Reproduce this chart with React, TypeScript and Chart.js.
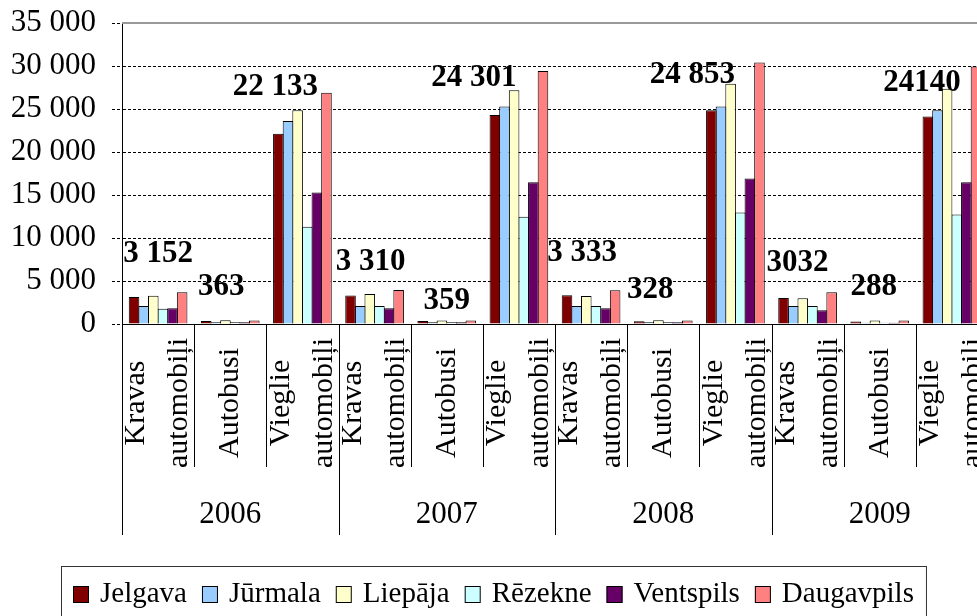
import React, { useEffect, useRef } from "react";
import { Chart, registerables } from "chart.js";

Chart.register(...registerables);

// ---------- data ----------
const years = ["2006", "2007", "2008", "2009"];
const vehicleTypes = ["Kravas automobiļi", "Autobusi", "Vieglie automobiļi"];
const categoryLabels = years.flatMap((y) => vehicleTypes.map((t) => `${y} ${t}`));

const seriesNames = ["Jelgava", "Jūrmala", "Liepāja", "Rēzekne", "Ventspils", "Daugavpils"];

const jelgava = [3152, 363, 22133, 3310, 359, 24301, 3333, 328, 24853, 3032, 288, 24140];
const jurmala = [2090, 200, 23600, 2090, 200, 25300, 2090, 200, 25300, 2090, 150, 24850];
const liepaja = [3280, 450, 24850, 3480, 400, 27170, 3250, 450, 27940, 2980, 400, 27360];
const rezekne = [1780, 200, 11300, 2090, 200, 12460, 2090, 200, 12970, 2090, 150, 12730];
const ventspils = [1820, 200, 15290, 1820, 200, 16490, 1820, 200, 16910, 1590, 150, 16490];
const daugavpils = [3680, 400, 26900, 3950, 400, 29410, 3910, 400, 30420, 3680, 400, 29950];

const dataLabelTexts = ["3 152", "363", "22 133", "3 310", "359", "24 301", "3 333", "328", "24 853", "3032", "288", "24140"];

const yMin = 0;
const yMax = 35000;
const yStep = 5000;

// ---------- styles ----------
const seriesColors = ["#800000", "#99CCFF", "#FFFFCC", "#CCFFFF", "#660066", "#FF8080"];
const FONT = "'Liberation Serif', 'Times New Roman', serif";
const labelShiftX = [0, -9, -27, -4, 0, -45, -9, -13, -43, -10, -6, -30];
const labelRise = [43, 34, 47, 34, 20, 37, 42, 31, 35, 35, 35, 33];

const fmt = (v: number) => {
  if (v === 0) return "0";
  const th = Math.floor(v / 1000);
  const rest = String(v % 1000).padStart(3, "0");
  return `${th} ${rest}`;
};

const decorPlugin = {
  id: "decor",
  beforeDatasetsDraw(chart: any) {
    const { ctx, chartArea } = chart;
    ctx.save();
    ctx.strokeStyle = "#999";
    ctx.lineWidth = 2;
    ctx.beginPath();
    ctx.moveTo(chartArea.left, chartArea.top);
    ctx.lineTo(chartArea.right + 2, chartArea.top);
    ctx.stroke();
    ctx.restore();
  },
  afterDatasetsDraw(chart: any) {
    const { ctx } = chart;
    const xs = chart.scales.x;
    const ys = chart.scales.y;
    ctx.save();
    ctx.fillStyle = "#000";
    ctx.font = `bold 31px ${FONT}`;
    ctx.textAlign = "center";
    ctx.textBaseline = "middle";
    dataLabelTexts.forEach((t, i) => {
      const x = xs.getPixelForValue(i) + labelShiftX[i];
      const y = ys.getPixelForValue(jelgava[i]) - labelRise[i];
      ctx.fillText(t, x, y);
    });
    ctx.restore();
  },
  afterDraw(chart: any) {
    const { ctx, chartArea } = chart;
    const xs = chart.scales.x;
    const n = categoryLabels.length;
    const w = (xs.right - xs.left) / n;
    const y0 = chartArea.bottom;
    ctx.save();
    ctx.strokeStyle = "#000";
    ctx.lineWidth = 1;
    for (let i = 0; i <= n; i++) {
      const x = Math.round(xs.left + i * w) + 0.5;
      const len = i % 3 === 0 ? 211 : 143;
      ctx.beginPath();
      ctx.moveTo(x, y0);
      ctx.lineTo(x, y0 + len);
      ctx.stroke();
    }
    ctx.fillStyle = "#000";
    ctx.font = `30px ${FONT}`;
    ctx.textAlign = "center";
    ctx.textBaseline = "middle";
    for (let i = 0; i < n; i++) {
      const cx = xs.getPixelForValue(i);
      const lines = vehicleTypes[i % 3].split(" ");
      ctx.save();
      ctx.translate(cx, y0 + 79);
      ctx.rotate(-Math.PI / 2);
      lines.forEach((ln, j) => {
        ctx.fillText(ln, 0, (j - (lines.length - 1) / 2) * 43);
      });
      ctx.restore();
    }
    ctx.font = `31px ${FONT}`;
    years.forEach((yr, k) => {
      const cx = (xs.getPixelForValue(3 * k) + xs.getPixelForValue(3 * k + 2)) / 2;
      ctx.fillText(yr, cx, y0 + 191);
    });

    // legend
    ctx.font = `29px ${FONT}`;
    ctx.textAlign = "left";
    const box = 16;
    const gapText = 11;
    const gapItem = 15;
    const widths = seriesNames.map((s) => ctx.measureText(s).width);
    const rowW = widths.reduce((a, b) => a + b, 0) + seriesNames.length * (box + gapText) + (seriesNames.length - 1) * gapItem;
    const centerX = 493.5;
    const ly = y0 + 270;
    let x = Math.round(centerX - rowW / 2);
    const left = x - 12;
    const right = x + rowW + 12;
    ctx.strokeStyle = "#333";
    ctx.lineWidth = 1;
    ctx.strokeRect(left + 0.5, y0 + 242 + 0.5, right - left, 60);
    seriesNames.forEach((s, i) => {
      ctx.fillStyle = seriesColors[i];
      ctx.fillRect(x, ly - 8, box, 17);
      ctx.strokeStyle = "#000";
      ctx.strokeRect(x + 0.5, ly - 8 + 0.5, box - 1, 16);
      ctx.fillStyle = "#000";
      ctx.fillText(s, x + box + gapText, ly);
      x += box + gapText + widths[i] + gapItem;
    });
    ctx.restore();
  },
};

export default function App() {
  const canvasRef = useRef<HTMLCanvasElement | null>(null);

  useEffect(() => {
    if (!canvasRef.current) return;
    const all = [jelgava, jurmala, liepaja, rezekne, ventspils, daugavpils];
    const chart = new Chart(canvasRef.current, {
      type: "bar",
      data: {
        labels: categoryLabels,
        datasets: all.map((d, i) => ({
          label: seriesNames[i],
          data: d,
          backgroundColor: seriesColors[i],
          borderColor: "#000",
          borderWidth: 1,
          categoryPercentage: 0.8,
          barPercentage: 1.1,
        })),
      },
      options: {
        responsive: false,
        animation: false,
        events: [],
        layout: { padding: { top: 23, right: 12, bottom: 0, left: 0 } },
        plugins: { legend: { display: false }, tooltip: { enabled: false } },
        scales: {
          x: {
            type: "category",
            offset: true,
            grid: { display: false },
            ticks: { display: false },
            border: { display: true, color: "#000", width: 1 },
            afterFit: (s: any) => {
              s.height = 306;
              s.paddingLeft = 0;
              s.paddingRight = 0;
            },
          },
          y: {
            min: yMin,
            max: yMax,
            ticks: {
              stepSize: yStep,
              color: "#000",
              padding: 16,
              font: { family: FONT, size: 31 },
              callback: (v: any) => fmt(Number(v)),
            },
            grid: {
              color: (c: any) => (c.tick && c.tick.value === yMax ? "rgba(0,0,0,0)" : "#000"),
              lineWidth: 1,
              tickLength: 10,
              tickColor: "#000",
              tickBorderDash: [3, 2],
            },
            border: { display: true, color: "#000", width: 1, dash: [3, 2] },
            afterFit: (s: any) => {
              s.width = 122;
              s.paddingTop = 0;
              s.paddingBottom = 0;
            },
          },
        },
      } as any,
      plugins: [decorPlugin],
    });
    return () => chart.destroy();
  }, []);

  return (
    <div
      style={{
        position: "fixed",
        left: 0,
        top: 0,
        width: 977,
        height: 616,
        overflow: "hidden",
        background: "#fff",
      }}
    >
      <canvas ref={canvasRef} width={1000} height={630} style={{ display: "block" }} />
    </div>
  );
}
